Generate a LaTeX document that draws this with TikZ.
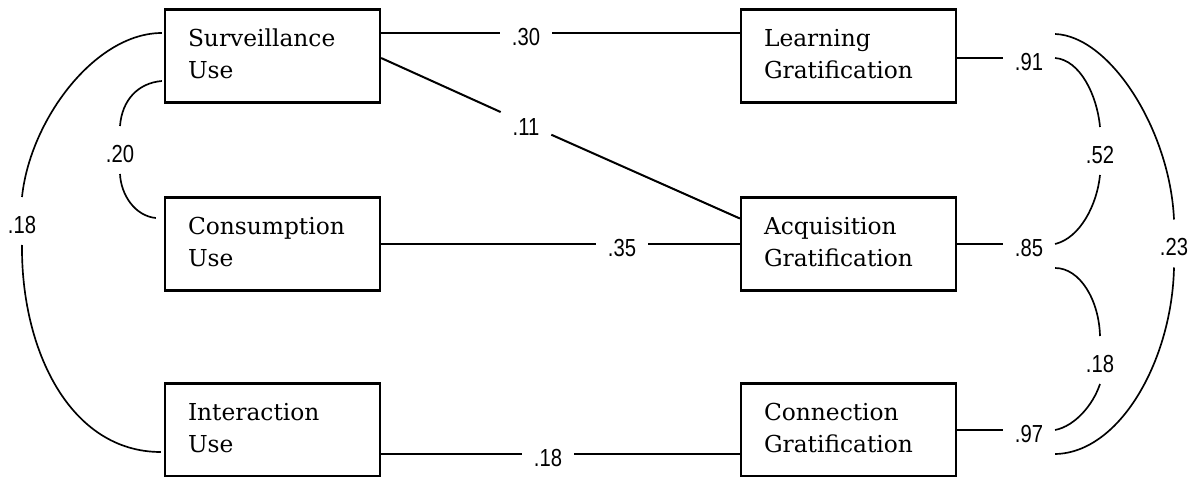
\documentclass[tikz,border=0pt]{standalone}
\usepackage{fontspec}
\setmainfont{DejaVu Serif}
\newfontfamily\numfont[FakeStretch=0.82]{Liberation Sans}
\usetikzlibrary{calc}

\begin{document}
\begin{tikzpicture}[x=0.75pt,y=-0.75pt,
  box/.style={draw, line width=1.7pt, minimum width=161.25pt, minimum height=69.75pt,
    inner xsep=17.25pt, inner ysep=0pt, text width=126.75pt, align=left,
    font=\fontsize{17.5}{24}\selectfont,
    execute at end node={\rule[-3pt]{0pt}{0pt}}},
  coef/.style={font=\fontsize{18.5}{20}\numfont, inner xsep=9pt, inner ysep=8.75pt,
    text height=18.5pt, text depth=0pt, outer sep=0pt},
  link/.style={line width=1.5pt},
  cov/.style={line width=1.25pt}]

\useasboundingbox (0,0) rectangle (1195,477);

% measured variables
\node[box] (surv)  at (272.5,56) {Surveillance\\Use};
\node[box] (cons)  at (272.5,244)  {Consumption\\Use};
\node[box] (inter) at (272.5,430)  {Interaction\\Use};
\node[box] (learn) at (848.5,56) {Learning\\Gratification};
\node[box] (acq)   at (848.5,244)  {Acquisition\\Gratification};
\node[box] (conn)  at (848.5,430)  {Connection\\Gratification};

% path coefficients
\node[coef] (n30) at (526,33) {.30};
\node[coef] (n11) at (526,123.5) {.11};
\node[coef] (n35) at (622,244) {.35};
\node[coef] (n18b) at (548,454) {.18};

\coordinate (p30) at ($(surv.east)+(0,-23)$);
\draw[link] (p30) -- (n30);
\draw[link] (n30) -- (p30 -| learn.west);

\coordinate (p11a) at ($(surv.east)+(0,2)$);
\coordinate (p11b) at ($(acq.west)+(0,-25.5)$);
\draw[link] (p11a) -- (n11);
\draw[link] (n11) -- (p11b);

\draw[link] (cons.east) -- (n35);
\draw[link] (n35) -- (acq.west);

\coordinate (p18) at ($(inter.east)+(0,24)$);
\draw[link] (p18) -- (n18b);
\draw[link] (n18b) -- (p18 -| conn.west);

% residual paths of the gratifications
\node[coef] (n91) at (1029,58) {.91};
\node[coef] (n85) at (1029,244) {.85};
\node[coef] (n97) at (1029,430) {.97};
\draw[link] (learn.east |- n91) -- (n91);
\draw[link] (acq.east |- n85) -- (n85);
\draw[link] (conn.east |- n97) -- (n97);

% correlations among residuals
\node[coef] (n52)  at (1100,151) {.52};
\node[coef] (n23)  at (1174,243.5) {.23};
\node[coef] (n18r) at (1100,360) {.18};

\draw[cov] (n91.east) .. controls (1080,60) and (1097,95) .. (n52.north);
\draw[cov] (n52.south) .. controls (1097,205) and (1080,238) .. (n85.east);
\draw[cov] (n91.north east) .. controls (1110,36) and (1170,130) .. (n23.north);
\draw[cov] (n23.south) .. controls (1172,360) and (1120,453) .. (n97.south east);
\draw[cov] (n85.south east) .. controls (1080,268) and (1099,300) .. (n18r.north);
\draw[cov] (n18r.south) .. controls (1093,405) and (1075,426) .. (n97.east);

% correlations among uses
\node[coef] (n20)  at (120,150) {.20};
\node[coef] (n18l) at (22,221) {.18};

\coordinate (q1) at ($(surv.west)+(-2,-23)$);
\coordinate (q2) at ($(inter.west)+(-3,22)$);
\coordinate (q3) at ($(surv.west)+(-2,25)$);
\coordinate (q4) at ($(cons.west)+(-8,-26)$);

\draw[cov] (q1) .. controls (95,33) and (30,120) .. (n18l.north);
\draw[cov] (n18l.south) .. controls (21,350) and (70,452) .. (q2);
\draw[cov] (q3) .. controls (138,83) and (122,100) .. (n20.north);
\draw[cov] (n20.south) .. controls (121,195) and (135,216) .. (q4);

\end{tikzpicture}
\end{document}
